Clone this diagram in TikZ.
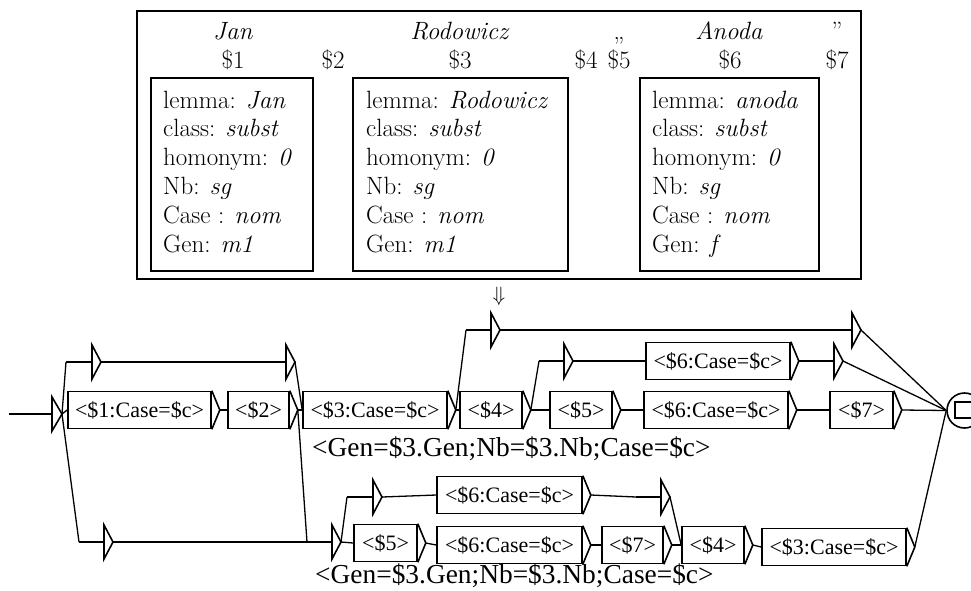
\documentclass[tikz,border=0pt]{standalone}
\usepackage{fontspec}
\newfontfamily\tms{Liberation Serif}
\usetikzlibrary{calc}
\newcommand\uxbox[5]{%
  \node[ubox,minimum width=#4pt] (#1) at (#2,#3) {#5};
  \coordinate (#1-o) at ($(#1.east)+(8,0)$);
  \draw[boxline] (#1.north east) -- (#1-o) -- (#1.south east);
}
\newcommand\uxeps[4]{%
  \coordinate (#1-i) at (#2,#3);
  \coordinate (#1-o) at ({#4+9},#3);
  \draw[edge] (#1-i) -- (#4,#3);
  \draw[boxline] (#4,{#3-17}) -- (#4,{#3+17}) -- (#1-o) -- cycle;
}
\begin{document}
\begin{tikzpicture}[x=1pt,y=-1pt,
  edge/.style={line width=1.3pt},
  boxline/.style={line width=1.6pt},
  ubox/.style={draw,line width=1.6pt,inner sep=0pt,minimum height=37pt,font=\tms\fontsize{22}{26}\selectfont},
  frame/.style={line width=2pt},
  inner/.style={line width=2.5pt},
  prop/.style={inner sep=0pt,font=\fontsize{25}{28.7}\selectfont},
  lbl/.style={inner sep=0pt,font=\tms\fontsize{27.4}{32}\selectfont}]
\useasboundingbox (0,0) rectangle (971,590);
% ---------- top frame ----------
\draw[frame] (137,11) rectangle (861,279);
\draw[inner] (151,78) rectangle (313,271);
\draw[inner] (353,78) rectangle (568,271);
\draw[inner] (640,78) rectangle (819,271);
\node[prop,anchor=base] (w1) at (233,39) {\textit{Jan}};
\node[prop,anchor=base] (w3) at (460,39) {\textit{Rodowicz}};
\node[prop,anchor=base] (w5) at (619,39) {„};
\node[prop,anchor=base] (w6) at (729,39) {\textit{Anoda}};
\node[prop,anchor=base] (w7) at (837,39) {”};
\node[prop,anchor=base] (d1) at (233,68) {\$1};
\node[prop,anchor=base] (d2) at (333,68) {\$2};
\node[prop,anchor=base] (d3) at (460,68) {\$3};
\node[prop,anchor=base] (d4) at (586,68) {\$4};
\node[prop,anchor=base] (d5) at (619,68) {\$5};
\node[prop,anchor=base] (d6) at (730,68) {\$6};
\node[prop,anchor=base] (d7) at (837,68) {\$7};
\foreach \t [count=\i] in {lemma: \textit{Jan}, class: \textit{subst}, homonym: \textit{0}, Nb: \textit{sg}, Case : \textit{nom}, Gen: \textit{m1}}
  \node[prop,anchor=base west] (pa\i) at (163,{108+28.8*(\i-1)}) {\t};
\foreach \t [count=\i] in {lemma: \textit{Rodowicz}, class: \textit{subst}, homonym: \textit{0}, Nb: \textit{sg}, Case : \textit{nom}, Gen: \textit{m1}}
  \node[prop,anchor=base west] (pb\i) at (366,{108+28.8*(\i-1)}) {\t};
\foreach \t [count=\i] in {lemma: \textit{anoda}, class: \textit{subst}, homonym: \textit{0}, Nb: \textit{sg}, Case : \textit{nom}, Gen: \textit{f}}
  \node[prop,anchor=base west] (pc\i) at (652,{108+28.8*(\i-1)}) {\t};
\node[inner sep=0pt,font=\fontsize{20}{24}\selectfont] (arr) at (499,296) {$\Downarrow$};
% ---------- graph ----------
% initial state
\coordinate (init-i) at (9,414);
\coordinate (init-o) at (62,414);
\draw[edge] (init-i) -- (52,414);
\draw[boxline] (52,397) -- (52,431) -- (init-o) -- cycle;
% final state
\node[circle,draw,line width=1.6pt,minimum size=35pt,inner sep=0pt] (fin) at (964.5,410.5) {};
\draw[boxline] (955,402) rectangle (980,418);
\coordinate (fin-i) at (fin.west);
% boxes
\uxbox{b1}{139.5}{410}{143}{<\$1:Case=\$c>}
\uxbox{b2}{258.5}{410}{61}{<\$2>}
\uxbox{b3}{375}{410}{144}{<\$3:Case=\$c>}
\uxbox{b4}{491}{410}{62}{<\$4>}
\uxbox{b5}{581}{410}{62}{<\$5>}
\uxbox{b6}{716}{410}{144}{<\$6:Case=\$c>}
\uxbox{b7}{861.5}{410}{63}{<\$7>}
\uxbox{b8}{718}{361}{144}{<\$6:Case=\$c>}
\uxbox{c1}{509.5}{495}{145}{<\$6:Case=\$c>}
\uxbox{c2}{385.5}{543}{63}{<\$5>}
\uxbox{c3}{509.5}{545}{145}{<\$6:Case=\$c>}
\uxbox{c4}{632.5}{545}{61}{<\$7>}
\uxbox{c5}{713}{545}{62}{<\$4>}
\uxbox{c6}{834}{547}{144}{<\$3:Case=\$c>}
% empty boxes
\uxeps{e1}{66}{362}{92}
\uxeps{e2}{261}{362}{286}
\uxeps{e3}{79}{542}{104}
\uxeps{e4}{307}{542}{332}
\uxeps{e5}{466}{330}{491}
\uxeps{e6}{827}{330}{852}
\uxeps{e7}{539}{361}{564}
\uxeps{e8}{809}{361}{834}
\uxeps{e9}{347}{497}{373}
\uxeps{e10}{636}{497}{661}
% labels
\node[lbl,anchor=base west] (l1) at (312,456) {<Gen=\$3.Gen;Nb=\$3.Nb;Case=\$c>};
\node[lbl,anchor=base west] (l2) at (315,583) {<Gen=\$3.Gen;Nb=\$3.Nb;Case=\$c>};
% transitions
\draw[edge] (init-o) -- (e1-i);
\draw[edge] (init-o) -- (b1.west);
\draw[edge] (init-o) -- (e3-i);
\draw[edge] (e1-o) -- (e2-i);
\draw[edge] (e2-o) -- (b3.west);
\draw[edge] (b1-o) -- (b2.west);
\draw[edge] (b2-o) -- (b3.west);
\draw[edge] (b2-o) -- (e4-i);
\draw[edge] (e3-o) -- (e4-i);
\draw[edge] (b3-o) -- (b4.west);
\draw[edge] (b3-o) -- (e5-i);
\draw[edge] (e5-o) -- (e6-i);
\draw[edge] (e6-o) -- (fin-i);
\draw[edge] (b4-o) -- (b5.west);
\draw[edge] (b4-o) -- (e7-i);
\draw[edge] (e7-o) -- (b8.west);
\draw[edge] (b8-o) -- (e8-i);
\draw[edge] (e8-o) -- (fin-i);
\draw[edge] (b5-o) -- (b6.west);
\draw[edge] (b6-o) -- (b7.west);
\draw[edge] (b7-o) -- (fin-i);
\draw[edge] (e4-o) -- (c2.west);
\draw[edge] (e4-o) -- (e9-i);
\draw[edge] (e9-o) -- (c1.west);
\draw[edge] (c1-o) -- (e10-i);
\draw[edge] (e10-o) -- (c5.west);
\draw[edge] (c2-o) -- (c3.west);
\draw[edge] (c3-o) -- (c4.west);
\draw[edge] (c4-o) -- (c5.west);
\draw[edge] (c5-o) -- (c6.west);
\draw[edge] (c6-o) -- (fin-i);
\end{tikzpicture}
\end{document}
